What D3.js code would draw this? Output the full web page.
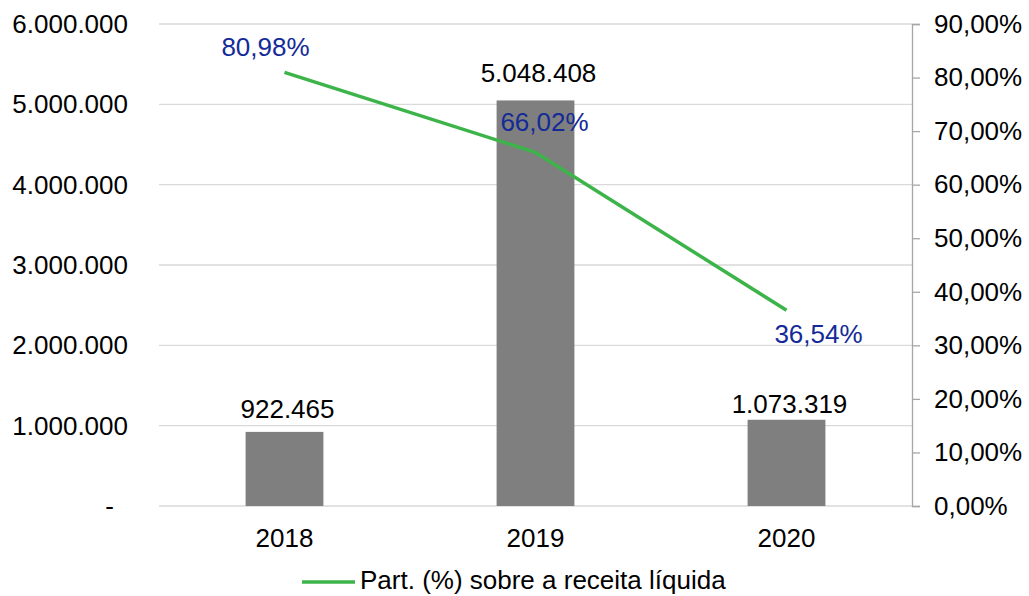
<!DOCTYPE html>
<html><head><meta charset="utf-8">
<script src="https://cdn.jsdelivr.net/npm/d3@7"></script>
<style>body{margin:0;background:#fff}svg{display:block}text{font-family:"Liberation Sans",Arial,sans-serif}</style>
</head><body><svg id="c" width="1029" height="596"></svg>
<script>
const categories = ["2018","2019","2020"];
const values = [922465, 5048408, 1073319];
const valueLabels = ["922.465","5.048.408","1.073.319"];
const shares = [80.98, 66.02, 36.54];
const shareLabels = ["80,98%","66,02%","36,54%"];
const leftTicks = [0,1000000,2000000,3000000,4000000,5000000,6000000];
const leftTickLabels = ["-","1.000.000","2.000.000","3.000.000","4.000.000","5.000.000","6.000.000"];
const rightTicks = [0,10,20,30,40,50,60,70,80,90];
const rightTickLabels = ["0,00%","10,00%","20,00%","30,00%","40,00%","50,00%","60,00%","70,00%","80,00%","90,00%"];
const legendLabel = "Part. (%) sobre a receita líquida";

// layout (not data)
const valueLabelGap = [14, 18, 7];
const shareLabelOffset = [[-19,-25],[9,-31],[32,24]];

const svg = d3.select("#c");
const L = 159, R = 912, T = 24, B = 506;
const x = d3.scaleBand().domain(categories).range([L,R]).paddingInner(0.69).paddingOuter(0.345);
const y = d3.scaleLinear().domain([0,6000000]).range([B,T]);
const y2 = d3.scaleLinear().domain([0,90]).range([B,T]);
const fs = 26;

// gridlines
svg.append("g").selectAll("line").data(leftTicks).join("line")
  .attr("x1",L).attr("x2",R).attr("y1",d=>y(d)).attr("y2",d=>y(d))
  .attr("stroke","#d9d9d9").attr("stroke-width",1.3);

// left labels
svg.append("g").selectAll("text").data(leftTicks).join("text")
  .attr("x",(d,i)=> i===0 ? 114 : 128).attr("y",d=>y(d)).attr("dy","0.35em")
  .attr("text-anchor","end").attr("font-size",fs).attr("fill","#000")
  .text((d,i)=>leftTickLabels[i]);

// right axis
const ra = svg.append("g").attr("transform",`translate(${R},0)`)
  .call(d3.axisRight(y2).tickValues(rightTicks).tickSize(8).tickPadding(14).tickFormat((d,i)=>rightTickLabels[i]));
ra.select(".domain").attr("stroke","#a6a6a6").attr("stroke-width",1.3);
ra.selectAll(".tick line").attr("stroke","#a6a6a6").attr("stroke-width",1.3);
ra.selectAll(".tick text").attr("font-size",fs).attr("fill","#000").attr("font-family","Liberation Sans, Arial, sans-serif");

// bars
svg.append("g").selectAll("rect").data(values).join("rect")
  .attr("x",(d,i)=>x(categories[i])).attr("width",x.bandwidth())
  .attr("y",d=>y(d)).attr("height",d=>B-y(d)).attr("fill","#7f7f7f");

// bar labels
svg.append("g").selectAll("text").data(values).join("text")
  .attr("x",(d,i)=>x(categories[i])+x.bandwidth()/2+3).attr("y",(d,i)=>y(d)-valueLabelGap[i])
  .attr("text-anchor","middle").attr("font-size",fs).attr("fill","#000")
  .text((d,i)=>valueLabels[i]);

// x labels
svg.append("g").selectAll("text").data(categories).join("text")
  .attr("x",d=>x(d)+x.bandwidth()/2).attr("y",538).attr("dy","0.35em")
  .attr("text-anchor","middle").attr("font-size",fs).attr("fill","#000").text(d=>d);

// line
const cx = i => x(categories[i])+x.bandwidth()/2;
svg.append("path").datum(shares)
  .attr("d", d3.line().x((d,i)=>cx(i)).y(d=>y2(d)))
  .attr("fill","none").attr("stroke","#3cb44a").attr("stroke-width",3.5).attr("stroke-linejoin","round");

svg.append("g").selectAll("text").data(shares).join("text")
  .attr("x",(d,i)=>cx(i)+shareLabelOffset[i][0]).attr("y",(d,i)=>y2(d)+shareLabelOffset[i][1]).attr("dy","0.35em")
  .attr("text-anchor","middle").attr("font-size",fs).attr("fill","#142a98")
  .text((d,i)=>shareLabels[i]);

// legend
const lg = svg.append("g");
lg.append("line").attr("x1",302).attr("x2",355).attr("y1",582).attr("y2",582)
  .attr("stroke","#3cb44a").attr("stroke-width",3.5);
lg.append("text").attr("x",360).attr("y",580).attr("dy","0.35em").attr("font-size",fs).attr("fill","#000").text(legendLabel);
</script></body></html>
